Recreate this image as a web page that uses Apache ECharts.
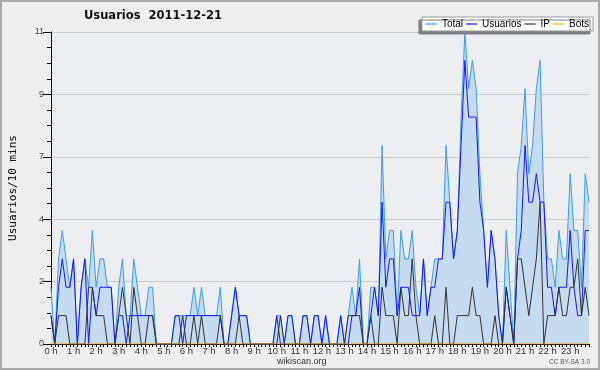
<!DOCTYPE html>
<html><head><meta charset="utf-8">
<script src="https://cdn.jsdelivr.net/npm/echarts@6/dist/echarts.min.js"></script>
<style>html,body{margin:0;padding:0;background:#efefef}#c{width:600px;height:370px}</style>
</head><body><div id="c"></div>
<script>
const hourLabels = ['0 h','1 h','2 h','3 h','4 h','5 h','6 h','7 h','8 h','9 h','10 h','11 h','12 h','13 h','14 h','15 h','16 h','17 h','18 h','19 h','20 h','21 h','22 h','23 h'];
const seriesNames = ['Total','Usuarios','IP','Bots'];
const total = [
 2,0,3,4,3,2,3,0,2,3, 2,4,2,3,3,2,2,0,2,3, 1,1,3,2,1,1,2,2,0,0,
 0,0,0,1,1,1,1,1,2,1, 2,1,1,1,1,2,0,0,1,2, 1,1,1,0,0,0,0,0,0,0,
 1,1,0,1,1,0,0,1,1,0, 1,1,0,1,0,0,0,1,0,1, 2,1,3,0,0,2,2,1,7,3,
 4,4,1,4,3,3,4,2,1,3, 1,2,3,3,3,7,5,3,4,8, 11,9,10,9,6,4,2,4,3,1,
 0,4,2,0,6,7,9,6,7,9, 10,5,3,3,2,4,3,3,6,4, 4,2,6,5];
const usuarios = [
 1,0,2,3,2,2,3,0,2,3, 0,2,1,2,2,2,2,0,1,1, 0,1,1,1,1,1,1,1,0,0,
 0,0,0,1,1,0,1,1,1,1, 1,1,1,1,1,1,0,0,1,2, 1,1,1,0,0,0,0,0,0,0,
 1,0,0,1,1,0,0,1,1,0, 1,1,0,1,0,0,0,1,0,0, 1,1,2,0,0,1,2,1,5,2,
 3,3,1,2,2,2,1,1,1,3, 1,2,2,3,3,5,5,3,4,7, 10,8,8,8,5,4,2,4,3,1,
 0,2,1,0,3,4,7,5,5,6, 5,5,2,2,1,2,2,2,4,2, 1,1,4,4];
const ip = [
 1,0,1,1,1,0,0,0,0,0, 2,2,1,1,1,0,0,0,1,2, 1,0,2,1,0,0,1,1,0,0,
 0,0,0,0,0,1,0,0,1,0, 1,0,0,0,0,1,0,0,0,0, 1,0,0,0,0,0,0,0,0,0,
 0,1,0,0,0,0,0,0,0,0, 0,0,0,0,0,0,0,0,0,1, 1,1,1,0,0,1,0,0,2,1,
 1,1,0,2,1,1,3,1,0,0, 0,0,1,0,0,2,0,0,1,1, 1,1,2,1,1,0,0,0,1,0,
 0,2,1,0,3,3,2,1,2,3, 5,0,1,1,1,2,1,1,2,2, 3,1,2,1];
const bots = [
 0,0,0,0,0,0,0,0,0,0, 0,0,0,0,0,0,0,0,0,0, 0,0,0,0,0,0,0,0,0,0,
 0,0,0,0,0,0,0,0,0,0, 0,0,0,0,0,0,0,0,0,0, 0,0,0,0,0,0,0,0,0,0,
 0,0,0,0,0,0,0,0,0,0, 0,0,0,0,0,0,0,0,0,0, 0,0,0,0,0,0,0,0,0,0,
 0,0,0,0,0,0,0,0,0,0, 0,0,0,0,0,0,0,0,0,0, 0,0,0,0,0,0,0,0,0,0,
 0,0,0,0,0,0,0,0,0,0, 0,0,0,0,0,0,0,0,0,0, 0,0,0,0];

const cats = [];
for (let h = 0; h < 24; h++) for (let m = 0; m < 60; m += 10) cats.push(h + ':' + (m < 10 ? '0' : '') + m);

const chart = echarts.init(document.getElementById('c'));
const FONT = 'Liberation Sans';
chart.setOption({
  animation: false,
  backgroundColor: '#efefef',
  textStyle: {fontFamily: FONT},
  title: {
    text: 'Usuarios  2011-12-21', left: 84, top: 10, padding: 0,
    textStyle: {fontFamily: 'DejaVu Sans', fontWeight: 'bold', fontSize: 11.5, color: '#111'}
  },
  legend: {
    data: seriesNames, right: 7, top: 17, icon: 'rect',
    backgroundColor: '#fff', borderColor: '#999', borderWidth: 1,
    shadowColor: '#808080', shadowOffsetX: -3, shadowOffsetY: 3, shadowBlur: 0,
    padding: [2, 4, 2, 4], itemGap: 3, itemWidth: 11, itemHeight: 1.2,
    textStyle: {fontFamily: FONT, fontSize: 10, color: '#000'}
  },
  grid: {left: 46, right: 11, top: 32, bottom: 26, show: true, backgroundColor: '#edeef0', borderWidth: 0},
  xAxis: {
    type: 'category', data: cats, boundaryGap: false,
    axisLine: {lineStyle: {color: '#000', width: 1}},
    axisTick: {interval: 0, length: 3, lineStyle: {color: '#000'}},
    axisLabel: {
      interval: (i) => i % 6 === 0, margin: 2,
      formatter: (v, i) => hourLabels[Math.floor(i / 6)],
      fontFamily: FONT, fontSize: 9.5, color: '#333'
    },
    splitLine: {show: false}
  },
  yAxis: {
    type: 'value', min: 0, max: 11, interval: 2.2,
    name: 'Usuarios/10 mins', nameLocation: 'middle', nameGap: 32, nameRotate: 90,
    nameTextStyle: {fontFamily: 'DejaVu Sans Mono', fontSize: 11, color: '#000'},
    axisLine: {show: true, lineStyle: {color: '#000'}},
    axisTick: {show: true, length: 8, lineStyle: {color: '#000'}},
    minorTick: {show: true, splitNumber: 4, length: 4, lineStyle: {color: '#000'}},
    axisLabel: {formatter: (v) => String(Math.round(v)), margin: 7, fontFamily: FONT, fontSize: 9, color: '#444'},
    splitLine: {lineStyle: {color: '#cccccc', width: 1}}
  },
  graphic: [
    {type: 'rect', silent: true, shape: {x: 1, y: 1, width: 598, height: 368}, style: {fill: null, stroke: '#aaaaaa', lineWidth: 2}},
    {type: 'text', left: 277, top: 357, style: {text: 'wikiscan.org', font: '9px "Liberation Sans"', fill: '#333'}},
    {type: 'text', right: 10, top: 359, style: {text: 'CC BY-SA 3.0', font: '6.5px "Liberation Sans"', fill: '#555'}}
  ],
  series: [
    {name: 'Total', type: 'line', data: total, symbol: 'none', z: 2,
     lineStyle: {color: '#3a9cf8', width: 1}, itemStyle: {color: '#3a9cf8'},
     areaStyle: {color: '#c5dbef', opacity: 1}},
    {name: 'Usuarios', type: 'line', data: usuarios, symbol: 'none', z: 3,
     lineStyle: {color: '#1414ff', width: 1}, itemStyle: {color: '#1414ff'}},
    {name: 'IP', type: 'line', data: ip, symbol: 'none', z: 4,
     lineStyle: {color: '#333333', width: 1}, itemStyle: {color: '#333333'}},
    {name: 'Bots', type: 'line', data: bots, symbol: 'none', z: 5,
     lineStyle: {color: '#ffa500', width: 1}, itemStyle: {color: '#ffa500'}}
  ]
});
</script></body></html>
